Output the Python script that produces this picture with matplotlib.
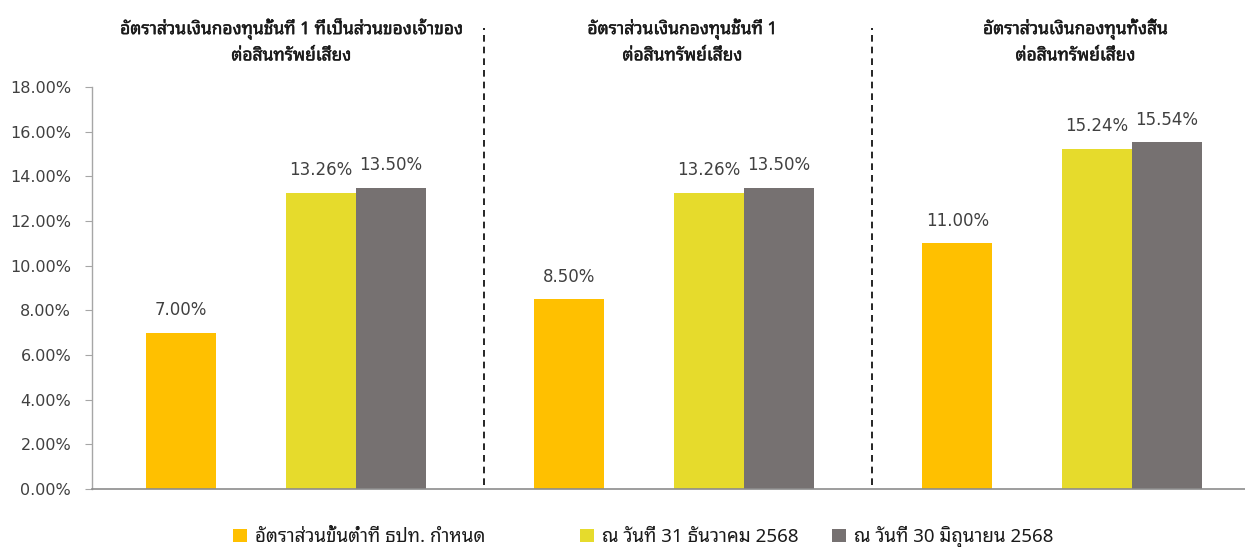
import matplotlib
matplotlib.use('Agg')
import matplotlib.pyplot as plt
from matplotlib import font_manager
from matplotlib.ft2font import FT2Font
from matplotlib.patches import Patch
import matplotlib.patheffects as pe

# data
groups = ['อัตราส่วนเงินกองทุนชั้นที่ 1 ที่เป็นส่วนของเจ้าของ\nต่อสินทรัพย์เสี่ยง',
          'อัตราส่วนเงินกองทุนชั้นที่ 1\nต่อสินทรัพย์เสี่ยง',
          'อัตราส่วนเงินกองทุนทั้งสิ้น\nต่อสินทรัพย์เสี่ยง']
series_names = ['อัตราส่วนขั้นต่ำที่ ธปท. กำหนด',
                'ณ วันที่ 31 ธันวาคม 2568',
                'ณ วันที่ 30 มิถุนายน 2568']
minimum = [7.00, 8.50, 11.00]
dec_2568 = [13.26, 13.26, 15.24]
jun_2568 = [13.50, 13.50, 15.54]
yticks = [0, 2, 4, 6, 8, 10, 12, 14, 16, 18]

colors = ['#FFC000', '#E6DB2C', '#767171']
txt_col = '#404040'


def find_thai_font():
    # look for any installed font that has Thai glyphs
    prefer = ['Tahoma', 'Leelawadee', 'Noto Sans Thai', 'Sarabun', 'Loma', 'Garuda', 'Norasi']
    found = []
    for f in font_manager.fontManager.ttflist:
        try:
            cmap = FT2Font(f.fname).get_charmap()
        except Exception:
            continue
        if 0x0E2D in cmap and 0x0E31 in cmap:
            found.append(f.name)
    for p in prefer:
        for n in found:
            if n.startswith(p):
                return n
    if found:
        return found[0]
    return 'DejaVu Sans'


thai = find_thai_font()
thai_fam = [thai, 'DejaVu Sans']

fig = plt.figure(figsize=(12.45, 5.47), dpi=100)
ax = fig.add_axes([92/1245, 1 - 489/547, (1256 - 92)/1245, (489 - 87)/547])

offs = [-0.27, 0.09, 0.27]
w = 0.18
allvals = [minimum, dec_2568, jun_2568]
for i, vals in enumerate(allvals):
    xs = [g + offs[i] for g in range(len(groups))]
    bars = ax.bar(xs, vals, width=w, color=colors[i], edgecolor='none', zorder=2)
    for b, v in zip(bars, vals):
        ax.text(b.get_x() + b.get_width()/2, v + 0.6, '%.2f%%' % v,
                ha='center', va='bottom', fontsize=12, color=txt_col,
                family='DejaVu Sans')

ax.set_xlim(-0.5, 2.5)
ax.set_ylim(0, 18)
ax.set_yticks(yticks)
ax.set_yticklabels(['%.2f%%' % t for t in yticks])
ax.set_xticks([])
ax.tick_params(axis='y', direction='out', length=5, color='#A6A6A6',
               labelsize=11.5, labelcolor=txt_col, pad=10)
for s in ['top', 'right']:
    ax.spines[s].set_visible(False)
ax.spines['left'].set_color('#A6A6A6')
ax.spines['bottom'].set_color('#8C8C8C')
ax.spines['left'].set_linewidth(1)
ax.spines['bottom'].set_linewidth(1.2)

# dashed separators
for xsep in [0.51, 1.51]:
    ax.axvline(xsep, ymin=0.01, ymax=(489 - 28)/402.0, color='black',
               linestyle=(0, (4, 3)), linewidth=1.2, clip_on=False, zorder=3)

# group titles (thin stroke to fake a semi-bold weight)
title_x = [0.013, 1.021, 2.034]
for g, t in enumerate(groups):
    ax.text(title_x[g], 20.05, t, ha='center', va='center', fontsize=12.5,
            color='#1A1A1A', family=thai_fam, linespacing=1.45,
            path_effects=[pe.withStroke(linewidth=0.35, foreground='#1A1A1A')])

# legend, one entry each so spacing can follow the picture
leg_x = [233/1245, 580/1245, 832/1245]
for i in range(3):
    h = Patch(facecolor=colors[i], edgecolor='none')
    lg = fig.legend([h], [series_names[i]], loc='center left',
                    bbox_to_anchor=(leg_x[i], 1 - 537/547), frameon=False,
                    prop={'family': thai_fam, 'size': 13.5},
                    handlelength=0.75, handleheight=0.75, handletextpad=0.4,
                    borderaxespad=0, borderpad=0)
    for tx in lg.get_texts():
        tx.set_color('#1A1A1A')

fig.savefig('out.png', dpi=100)
